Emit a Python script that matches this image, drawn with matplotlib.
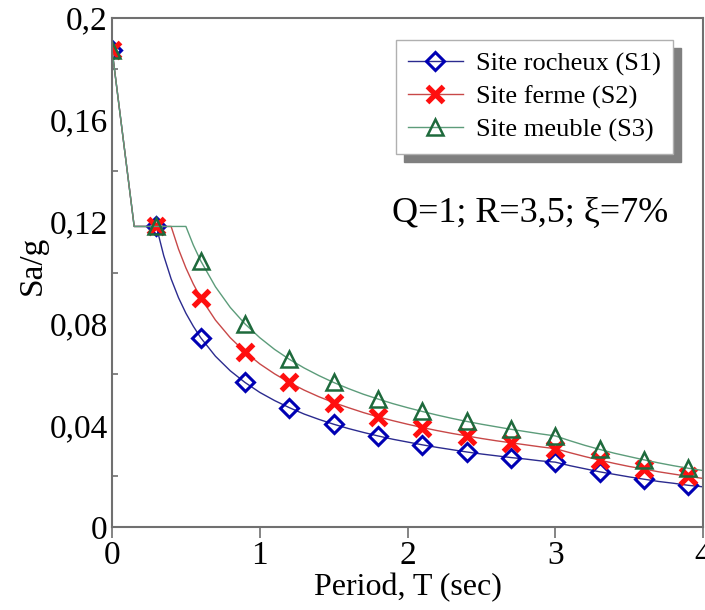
import matplotlib
matplotlib.use('agg')
import matplotlib.pyplot as plt
import numpy as np

plt.rcParams['font.family'] = ['Liberation Serif', 'DejaVu Serif']

# period grid (sec)
t = np.array([0, 0.15, 0.3, 0.35, 0.4, 0.45, 0.5, 0.55, 0.6, 0.7, 0.8, 0.9,
              1.0, 1.1, 1.2, 1.3, 1.4, 1.5, 1.6, 1.7, 1.8, 1.9, 2.0,
              2.1, 2.2, 2.3, 2.4, 2.5, 2.6, 2.7, 2.8, 2.9, 3.0,
              3.1, 3.2, 3.3, 3.4, 3.5, 3.6, 3.7, 3.8, 3.9, 4.0])

s1 = np.array([0.1875, 0.1181, 0.1181, 0.1066, 0.0975, 0.0901, 0.0840, 0.0789, 0.0744,
               0.0671, 0.0614, 0.0568, 0.0529, 0.0497, 0.0469, 0.0444, 0.0423, 0.0404,
               0.0387, 0.0372, 0.0358, 0.0345, 0.0334, 0.0323, 0.0313, 0.0304, 0.0295,
               0.0287, 0.0280, 0.0273, 0.0267, 0.0260, 0.0255, 0.0241, 0.0229, 0.0217,
               0.0207, 0.0197, 0.0188, 0.0179, 0.0172, 0.0164, 0.0158])
s2 = np.array([0.1875, 0.1181, 0.1181, 0.1181, 0.1181, 0.1092, 0.1018, 0.0955, 0.0901,
               0.0813, 0.0744, 0.0688, 0.0641, 0.0602, 0.0568, 0.0538, 0.0512, 0.0489,
               0.0469, 0.0450, 0.0433, 0.0418, 0.0404, 0.0391, 0.0379, 0.0368, 0.0358,
               0.0348, 0.0339, 0.0331, 0.0323, 0.0315, 0.0308, 0.0292, 0.0277, 0.0263,
               0.0250, 0.0238, 0.0228, 0.0217, 0.0208, 0.0199, 0.0191])
s3 = np.array([0.1875, 0.1181, 0.1181, 0.1181, 0.1181, 0.1181, 0.1181, 0.1108, 0.1046,
               0.0944, 0.0863, 0.0798, 0.0744, 0.0698, 0.0659, 0.0625, 0.0595, 0.0568,
               0.0544, 0.0522, 0.0503, 0.0485, 0.0469, 0.0454, 0.0440, 0.0427, 0.0415,
               0.0404, 0.0394, 0.0384, 0.0375, 0.0366, 0.0358, 0.0339, 0.0321, 0.0305,
               0.0290, 0.0277, 0.0264, 0.0252, 0.0241, 0.0231, 0.0222])

# periods where markers are drawn
t_mark = [0, 0.3, 0.6, 0.9, 1.2, 1.5, 1.8, 2.1, 2.4, 2.7, 3.0, 3.3, 3.6, 3.9]
marks = [int(np.argmin(abs(t - v))) for v in t_mark]

labels = ['Site rocheux (S1)', 'Site ferme (S2)', 'Site meuble (S3)']

fig = plt.figure(figsize=(7.05, 6.10), dpi=100)
ax = fig.add_axes([0.1589, 0.136, 0.8383, 0.8345])

ax.plot(t, s1, color='#2b2b8f', lw=1.0, marker='D', ms=9.5, mfc='none',
        mec='#0000b4', mew=2.2, markevery=marks, label=labels[0])
ax.plot(t, s2, color='#c84848', lw=1.0, marker='x', ms=12, mec='#ff0f0f',
        mew=3.8, markevery=marks, label=labels[1])
ax.plot(t, s3, color='#5c9c7a', lw=1.0, marker='^', ms=11, mfc='none',
        mec='#1e6a3c', mew=1.8, markevery=marks, label=labels[2])

ax.set_xlim(0, 4)
ax.set_ylim(0, 0.2)
ax.set_xticks([0, 1, 2, 3, 4])
ax.set_yticks([0, 0.04, 0.08, 0.12, 0.16, 0.2])
ax.set_yticklabels(['0', '0,04', '0,08', '0,12', '0,16', '0,2'])
ax.set_yticks([0.02, 0.06, 0.10, 0.14, 0.18], minor=True)
ax.tick_params(axis='y', which='major', length=0, labelsize=24, pad=3)
ax.tick_params(axis='y', which='minor', direction='in', length=4, width=1.2, color='#707070')
ax.tick_params(axis='x', which='major', direction='out', length=8, width=1.2,
               color='#707070', labelsize=24, pad=2)
for sp in ax.spines.values():
    sp.set_color('#707070')
    sp.set_linewidth(1.5)

ax.set_xlabel('Period, T (sec)', fontsize=23)
ax.set_ylabel('Sa/g', fontsize=24)
ax.xaxis.set_label_coords(0.5, -0.09)
ax.yaxis.set_label_coords(-0.108, 0.515)

leg = ax.legend(loc='upper right', bbox_to_anchor=(0.949, 0.957), borderaxespad=0,
                fontsize=19, frameon=True, fancybox=False, handlelength=2.1,
                handletextpad=0.5, labelspacing=0.35, borderpad=0.45,
                shadow={'ox': 6, 'oy': -6, 'color': '#7f7f7f', 'alpha': 1})
leg.get_frame().set_edgecolor('#b0b0b0')
leg.get_frame().set_linewidth(1.0)

ax.text(0.707, 0.617, 'Q=1; R=3,5; ξ=7%', transform=ax.transAxes, fontsize=26,
        ha='center', va='center')

fig.savefig('out.png', dpi=100)
plt.close()
